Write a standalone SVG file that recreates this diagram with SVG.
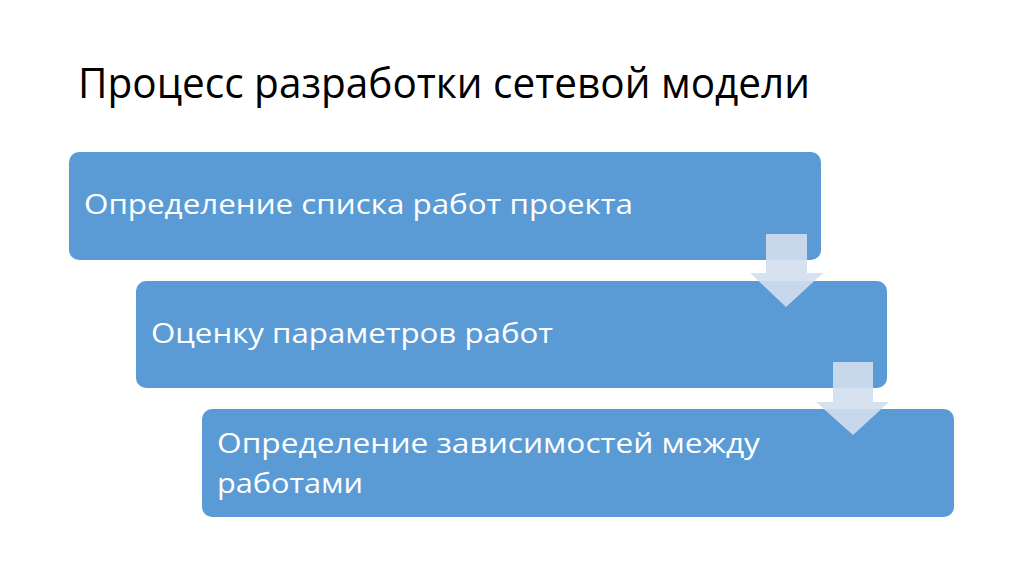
<svg xmlns="http://www.w3.org/2000/svg" width="1024" height="574" viewBox="0 0 1024 574">
<style>
.box{fill:#5b9bd5}
.t{font-family:"Open Sans","Liberation Sans",sans-serif;fill:#ffffff;font-size:28px}
.title{font-family:"Open Sans","Liberation Sans",sans-serif;fill:#000000;font-size:42px}
.arr{fill:#d3dff0;fill-opacity:0.9}
</style>
<rect width="1024" height="574" fill="#ffffff"/>
<text class="title" x="78" y="98" textLength="732" lengthAdjust="spacingAndGlyphs">Процесс разработки сетевой модели</text>
<g id="node1">
<rect class="box" x="69" y="152" width="752" height="108" rx="10"/>
<text class="t" x="84" y="214" textLength="549" lengthAdjust="spacingAndGlyphs">Определение списка работ проекта</text>
</g>
<g id="node2">
<rect class="box" x="136" y="281" width="751" height="107" rx="10"/>
<text class="t" x="151" y="343" textLength="402" lengthAdjust="spacingAndGlyphs">Оценку параметров работ</text>
</g>
<g id="node3">
<rect class="box" x="202" y="409" width="752" height="108" rx="10"/>
<text class="t" x="217" y="453" textLength="543" lengthAdjust="spacingAndGlyphs">Определение зависимостей между</text>
<text class="t" x="217" y="493" textLength="146" lengthAdjust="spacingAndGlyphs">работами</text>
</g>
<g id="connectors">
<polygon class="arr" points="766,234 807,234 807,273 823,273 786,307 750,273 766,273"/>
<polygon class="arr" points="833,362 873,362 873,402 889,402 853,435 816,402 833,402"/>
</g>
</svg>
